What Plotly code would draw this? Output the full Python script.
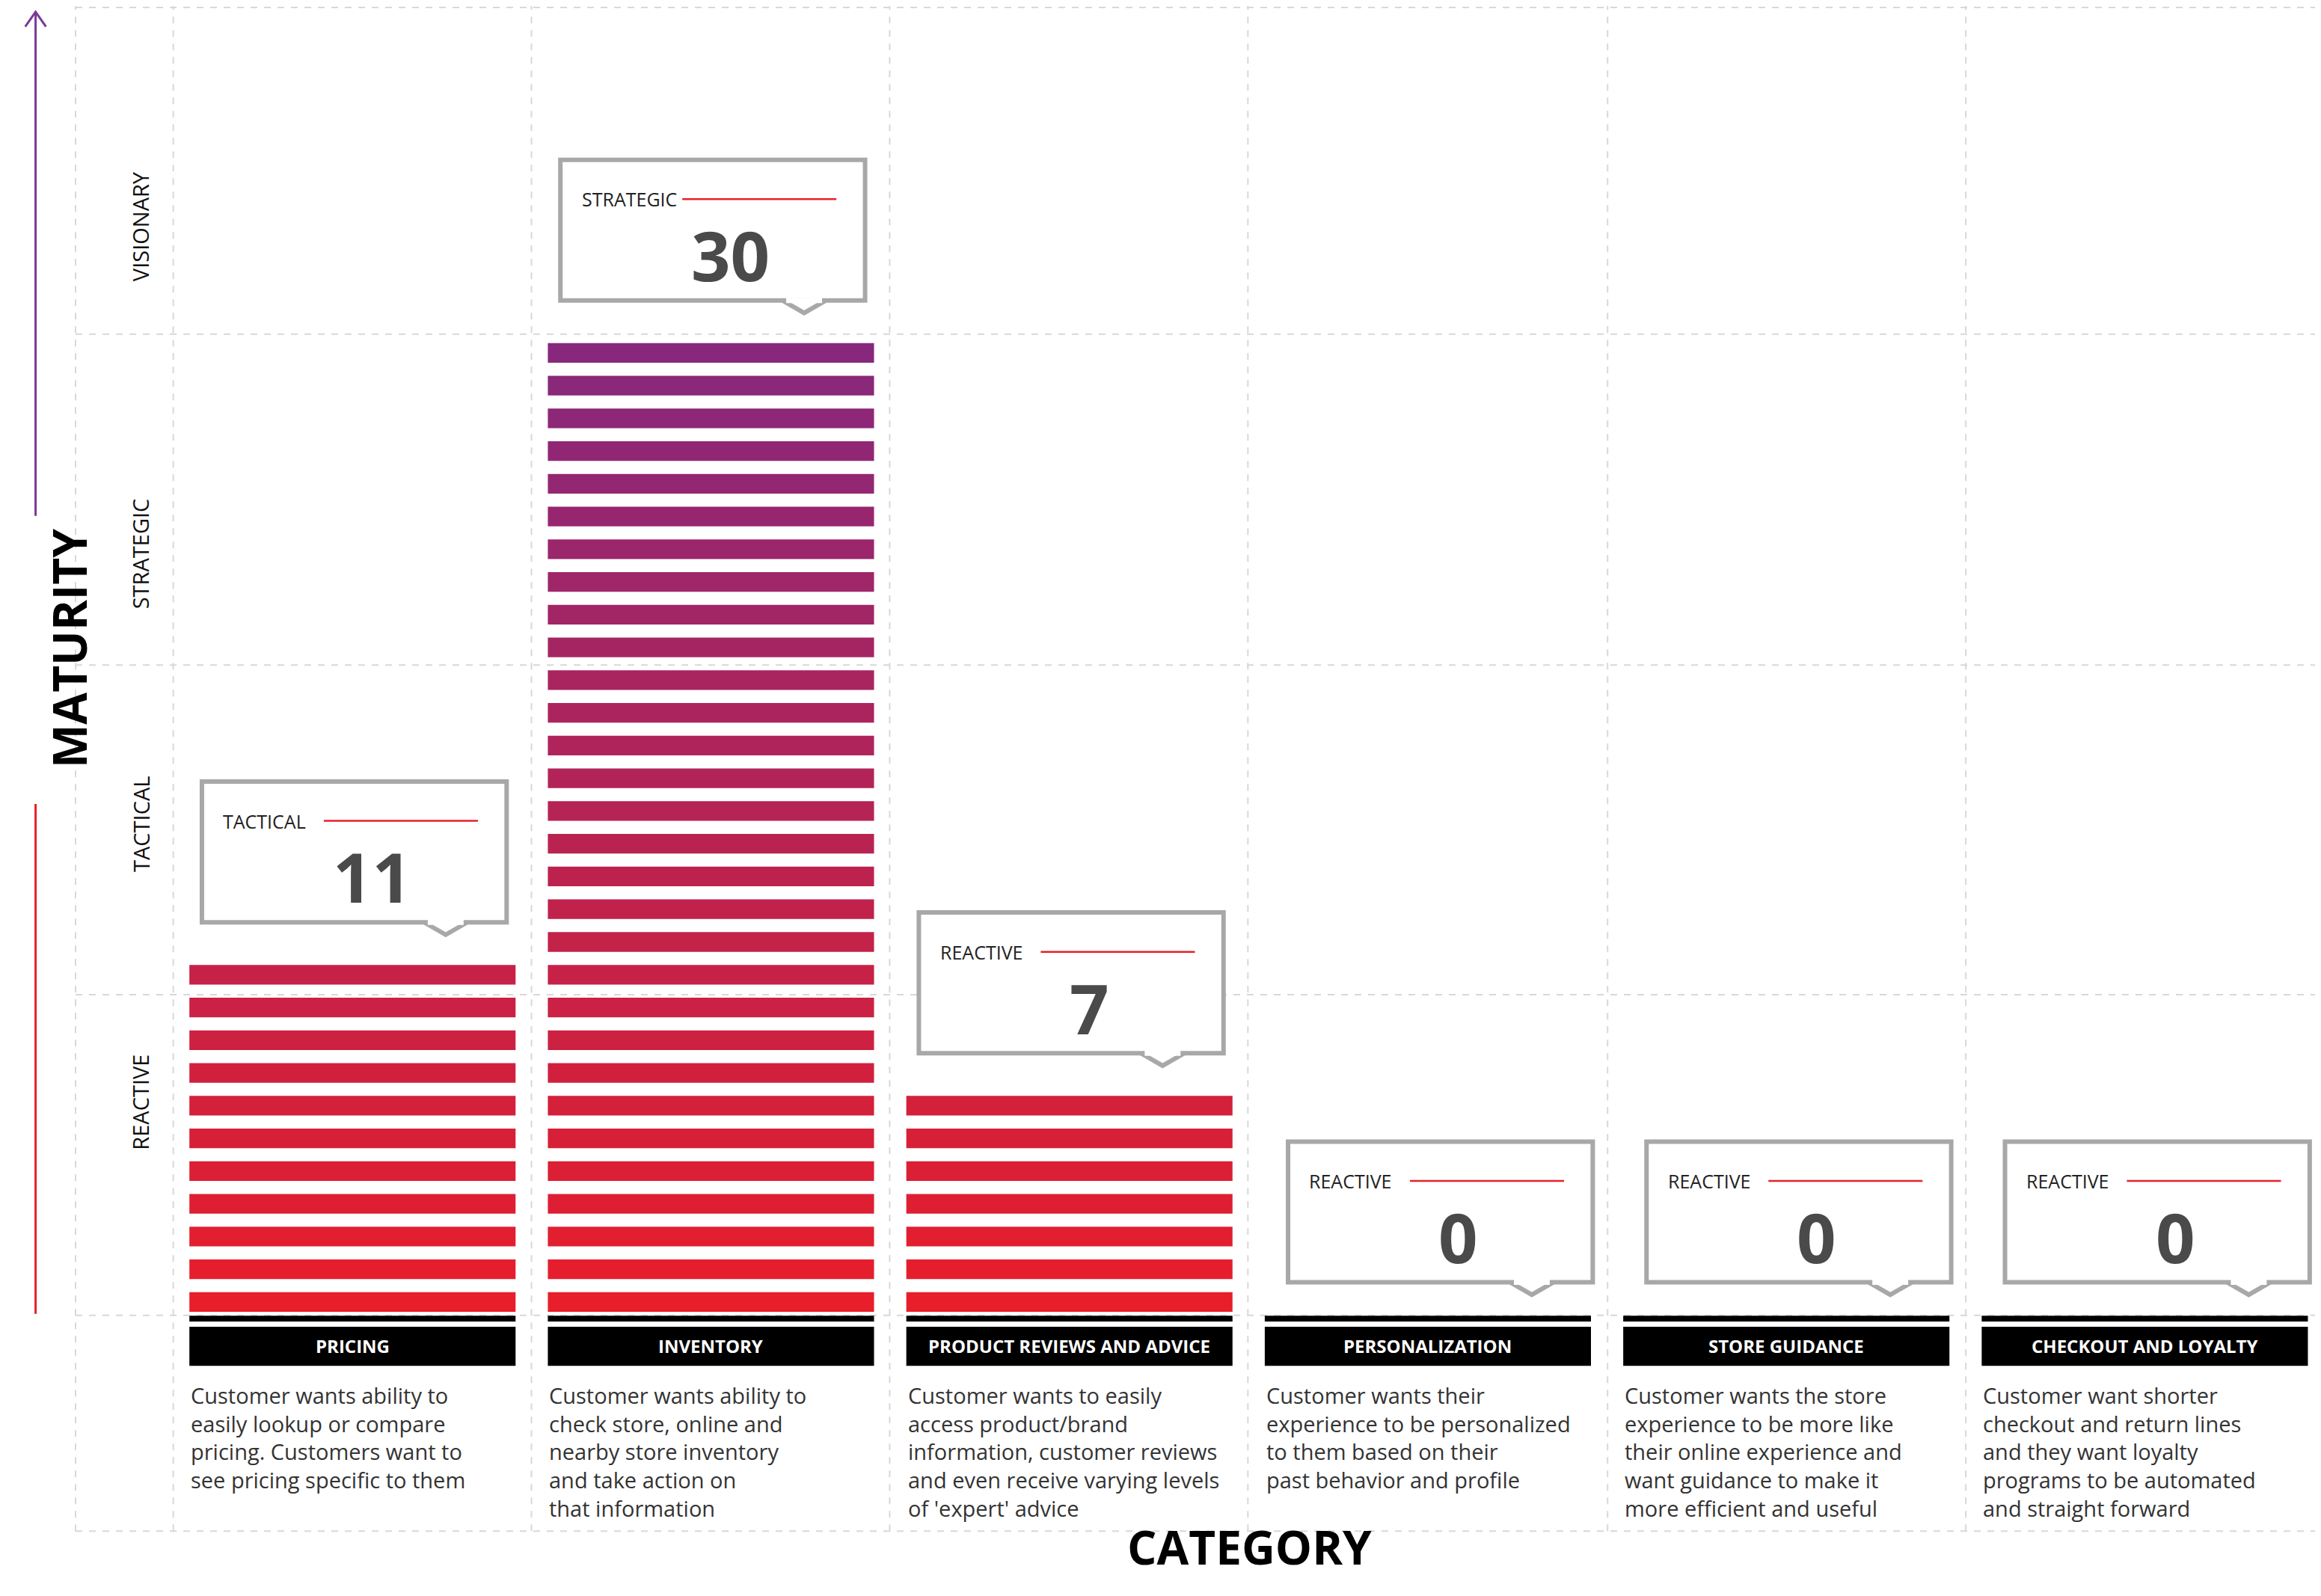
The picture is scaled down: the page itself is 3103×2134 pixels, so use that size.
import plotly.graph_objects as go

categories = ["PRICING", "INVENTORY", "PRODUCT REVIEWS AND ADVICE",
              "PERSONALIZATION", "STORE GUIDANCE", "CHECKOUT AND LOYALTY"]
counts = [11, 30, 7, 0, 0, 0]
levels = ["TACTICAL", "STRATEGIC", "REACTIVE", "REACTIVE", "REACTIVE", "REACTIVE"]
descriptions = [
    "Customer wants ability to<br>easily lookup or compare<br>pricing. Customers want to<br>see pricing specific to them",
    "Customer wants ability to<br>check store, online and<br>nearby store inventory<br>and take action on<br>that information",
    "Customer wants to easily<br>access product/brand<br>information, customer reviews<br>and even receive varying levels<br>of 'expert' advice",
    "Customer wants their<br>experience to be personalized<br>to them based on their<br>past behavior and profile",
    "Customer wants the store<br>experience to be more like<br>their online experience and<br>want guidance to make it<br>more efficient and useful",
    "Customer want shorter<br>checkout and return lines<br>and they want loyalty<br>programs to be automated<br>and straight forward",
]
row_labels = ["REACTIVE", "TACTICAL", "STRATEGIC", "VISIONARY"]

W, H = 3103, 2134
FONT = "Open Sans"
xs = list(range(len(categories)))


def px(x):  # reference x (1568 wide) -> paper
    return x / 1568


def py(y):  # reference y (1080 high) -> paper
    return 1 - y / 1080


def stripe_color(k):
    a, b = (232, 30, 42), (135, 40, 125)
    t = k / 29
    return "rgb(%d,%d,%d)" % tuple(round(a[i] + (b[i] - a[i]) * t) for i in range(3))


fig = go.Figure()
for k in range(max(counts)):
    fig.add_trace(go.Bar(
        x=xs, y=[0.6 if k < n else 0 for n in counts], base=k + 0.1,
        width=0.91, marker_color=stripe_color(k), marker_line_width=0,
        hoverinfo="skip", showlegend=False))

shapes, ann = [], []
grid = dict(color="#d8d8d8", width=2, dash="dash")
for x in [47, 113, 355, 597, 839, 1082, 1324, 1566]:
    shapes.append(dict(type="line", xref="paper", yref="paper", x0=px(x), x1=px(x),
                       y0=py(1032), y1=1, line=grid))
for y in [1, 222, 446, 669, 886, 1032]:
    shapes.append(dict(type="line", xref="paper", yref="paper", x0=px(47), x1=1,
                       y0=py(y), y1=py(y), line=grid))

for i, (cat, n, lvl, desc) in enumerate(zip(categories, counts, levels, descriptions)):
    # header
    shapes.append(dict(type="rect", x0=i - 0.455, x1=i + 0.455, y0=-0.2, y1=-0.02,
                       fillcolor="black", line_width=0, layer="above"))
    shapes.append(dict(type="rect", x0=i - 0.455, x1=i + 0.455, y0=-1.55, y1=-0.36,
                       fillcolor="black", line_width=0, layer="above"))
    ann.append(dict(x=i, y=-0.95, text="<b>" + cat + "</b>", showarrow=False,
                    font=dict(family=FONT, size=24, color="white")))
    ann.append(dict(x=i - 0.455, y=-1.95, text=desc, showarrow=False, xanchor="left",
                    yanchor="top", align="left",
                    font=dict(family=FONT, size=29, color="#333")))
    # callout box
    bx0, bx1 = i - 0.42 + 0.03 * (i > 2), i + 0.43 + 0.03 * (i > 2)
    by0, by1 = n + 1, n + 5.3
    shapes.append(dict(type="rect", x0=bx0, x1=bx1, y0=by0, y1=by1,
                       fillcolor="white", line=dict(color="#a8a8a8", width=6), layer="above"))
    nx = bx1 - 0.17
    shapes.append(dict(type="path", path=f"M {nx-0.06},{by0} L {nx},{by0-0.38} L {nx+0.06},{by0}",
                       fillcolor="white", line=dict(color="#a8a8a8", width=6), layer="above"))
    shapes.append(dict(type="line", x0=nx - 0.05, x1=nx + 0.05, y0=by0, y1=by0,
                       line=dict(color="white", width=7), layer="above"))
    shapes.append(dict(type="line", x0=bx0 + 0.34, x1=bx0 + 0.77, y0=by1 - 1.2, y1=by1 - 1.2,
                       line=dict(color="#e8202a", width=2.5), layer="above"))
    ann.append(dict(x=bx0 + 0.055, y=by1 - 1.2, text=lvl, showarrow=False, xanchor="left",
                    font=dict(family=FONT, size=25, color="#222")))
    ann.append(dict(x=bx0 + 0.475, y=by1 - 2.9, text="<b>%d</b>" % n, showarrow=False,
                    font=dict(family=FONT, size=92, color="#4a4a4a")))

for r, lab in enumerate(row_labels):
    ann.append(dict(xref="paper", yref="paper", x=px(80), y=py(886 - (r + 0.5) * 221.5),
                    text=lab, textangle=-90, showarrow=False,
                    font=dict(family=FONT, size=29, color="#111")))

ann.append(dict(xref="paper", yref="paper", x=px(20), y=py(435), text="<b>MATURITY</b>",
                textangle=-90, showarrow=False, font=dict(family=FONT, size=62, color="black")))
ann.append(dict(xref="paper", yref="paper", x=px(840), y=py(1065), text="<b>CATEGORY</b>",
                showarrow=False, font=dict(family=FONT, size=62, color="black")))
shapes.append(dict(type="line", xref="paper", yref="paper", x0=px(20), x1=px(20),
                   y0=py(885), y1=py(540), line=dict(color="#e8202a", width=3)))
shapes.append(dict(type="line", xref="paper", yref="paper", x0=px(20), x1=px(20),
                   y0=py(345), y1=py(4), line=dict(color="#7b3a96", width=3)))
shapes.append(dict(type="path", xref="paper", yref="paper",
                   path=f"M {px(13)},{py(14)} L {px(20)},{py(4)} L {px(27)},{py(14)}",
                   line=dict(color="#7b3a96", width=3)))

fig.update_layout(
    width=W, height=H, margin=dict(l=0, r=0, t=0, b=0),
    plot_bgcolor="white", paper_bgcolor="white", barmode="overlay",
    shapes=shapes, annotations=ann,
    xaxis=dict(domain=[px(113), px(1566)], range=[-0.5, 5.5], visible=False, fixedrange=True),
    yaxis=dict(domain=[py(1032), 1], range=[-6.6, 40], visible=False, fixedrange=True),
)
fig.write_html("out.html")
